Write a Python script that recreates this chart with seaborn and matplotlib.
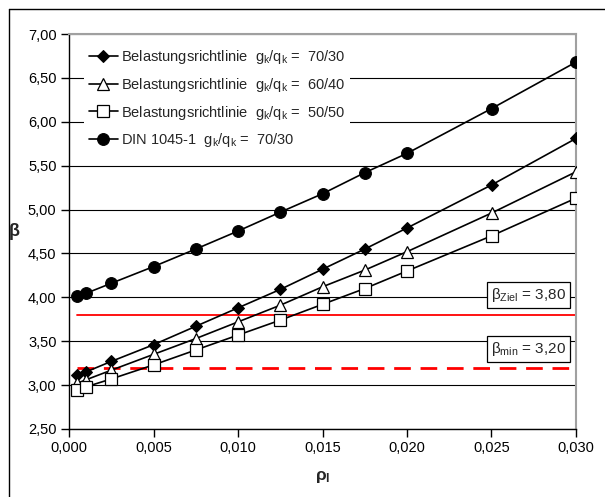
import matplotlib
matplotlib.use("Agg")
import matplotlib.pyplot as plt
from matplotlib.lines import Line2D
from matplotlib.ticker import FuncFormatter, MultipleLocator
import seaborn as sns
import pandas as pd

# ---- data ----
rho = [0.0005, 0.001, 0.0025, 0.005, 0.0075, 0.010, 0.0125, 0.015, 0.0175, 0.020, 0.025, 0.030]
beta_70_30 = [3.11, 3.15, 3.27, 3.46, 3.67, 3.88, 4.09, 4.32, 4.55, 4.79, 5.28, 5.81]
beta_60_40 = [3.02, 3.06, 3.17, 3.35, 3.53, 3.72, 3.91, 4.12, 4.31, 4.52, 4.96, 5.43]
beta_50_50 = [2.95, 2.98, 3.07, 3.23, 3.40, 3.57, 3.74, 3.92, 4.10, 4.30, 4.70, 5.13]
beta_din = [4.01, 4.045, 4.16, 4.35, 4.55, 4.755, 4.97, 5.18, 5.42, 5.64, 6.15, 6.68]
beta_ziel = 3.80
beta_min = 3.20
ref_x = [0.0005, 0.030]

labels = [
    r"Belastungsrichtlinie  $\mathregular{g_k/q_k}$ =  70/30",
    r"Belastungsrichtlinie  $\mathregular{g_k/q_k}$ =  60/40",
    r"Belastungsrichtlinie  $\mathregular{g_k/q_k}$ =  50/50",
    r"DIN 1045-1  $\mathregular{g_k/q_k}$ =  70/30",
]
series = [beta_70_30, beta_60_40, beta_50_50, beta_din]

sns.set_style("white")
plt.rcParams["font.family"] = ["Liberation Sans", "DejaVu Sans"]
plt.rcParams["mathtext.fontset"] = "custom"
plt.rcParams["mathtext.rm"] = "Liberation Sans"
plt.rcParams["mathtext.it"] = "Liberation Sans:italic"
plt.rcParams["mathtext.bf"] = "Liberation Sans:bold"
plt.rcParams["mathtext.default"] = "regular"

fig = plt.figure(figsize=(6.05, 4.97), dpi=100)
ax = fig.add_axes([69 / 605, 1 - 429 / 497, 507 / 605, 395 / 497])

# outer frame (cut off at right/bottom): only top and left edges visible
fx = 8.5 / 605
fy = 1 - 8.5 / 497
fig.add_artist(Line2D([fx, 1.0], [fy, fy], transform=fig.transFigure, color="black", linewidth=1.0))
fig.add_artist(Line2D([fx, fx], [0.0, fy], transform=fig.transFigure, color="black", linewidth=1.0))

styles = [
    dict(marker="D", markersize=6.5, markerfacecolor="black", markeredgecolor="black"),
    dict(marker="^", markersize=8.5, markerfacecolor="white", markeredgecolor="black", markeredgewidth=0.9),
    dict(marker="s", markersize=8, markerfacecolor="white", markeredgecolor="black", markeredgewidth=0.9),
    dict(marker="o", markersize=8.5, markerfacecolor="black", markeredgecolor="black"),
]

for vals, lab, st in zip(series, labels, styles):
    df = pd.DataFrame({"rho": rho, "beta": vals})
    sns.lineplot(data=df, x="rho", y="beta", ax=ax, color="black", linewidth=1.2,
                 label=lab, zorder=3, **st)

ref_df = pd.DataFrame({"rho": ref_x, "ziel": [beta_ziel] * 2, "min": [beta_min] * 2})
sns.lineplot(data=ref_df, x="rho", y="ziel", ax=ax, color="red", linewidth=1.3, zorder=2, legend=False)
sns.lineplot(data=ref_df, x="rho", y="min", ax=ax, color="red", linewidth=2.0, zorder=2,
             linestyle=(0, (6, 3.5)), legend=False)

ax.set_xlim(0, 0.030)
ax.set_ylim(2.5, 7.0)
ax.xaxis.set_major_locator(MultipleLocator(0.005))
ax.yaxis.set_major_locator(MultipleLocator(0.5))
ax.xaxis.set_major_formatter(FuncFormatter(lambda v, p: f"{v:.3f}".replace(".", ",")))
ax.yaxis.set_major_formatter(FuncFormatter(lambda v, p: f"{v:.2f}".replace(".", ",")))
ax.yaxis.grid(True, color="black", linewidth=0.8)
ax.set_axisbelow(True)
ax.tick_params(axis="both", direction="out", length=6, width=1, colors="black",
               labelsize=10.5, pad=3, left=True, bottom=True)
for s in ["left", "bottom"]:
    ax.spines[s].set_color("black")
    ax.spines[s].set_linewidth(1.0)
for s in ["top", "right"]:
    ax.spines[s].set_visible(True)
    ax.spines[s].set_color("#a0a0a0")
    ax.spines[s].set_linewidth(1.5)

ax.set_xlabel(r"$\mathbf{\rho_l}$", fontsize=12.5, labelpad=10)
ax.set_ylabel(r"$\mathbf{\beta}$", fontsize=13, rotation=0, labelpad=10, va="center")

leg = ax.legend(loc="upper left", bbox_to_anchor=(0.03, 0.975), frameon=True,
                facecolor="white", edgecolor="none", framealpha=1, fontsize=10.5,
                handlelength=2.0, handletextpad=0.25, labelspacing=0.66,
                borderpad=0.3, borderaxespad=0)
leg.set_zorder(5)

box = dict(boxstyle="square,pad=0.25", facecolor="white", edgecolor="black", linewidth=0.9)
ax.text(0.0272, 4.03, r"$\mathregular{\beta_{Ziel}}$ = 3,80", fontsize=11, ha="center",
        va="center", bbox=box, zorder=6)
ax.text(0.0272, 3.41, r"$\mathregular{\beta_{min}}$ = 3,20", fontsize=11, ha="center",
        va="center", bbox=box, zorder=6)

fig.savefig("out.png", dpi=100)
